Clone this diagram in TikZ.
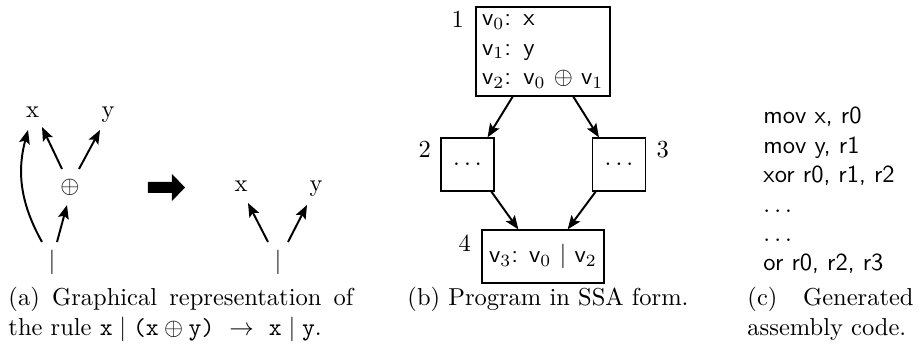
\documentclass[tikz,border=0pt]{standalone}
\usetikzlibrary{arrows.meta,calc}
\begin{document}
\begin{tikzpicture}[x=0.40816pt,y=-0.40816pt,
  arr/.style={-{Stealth[length=5.6pt,width=4.4pt,inset=1.1pt]}, line width=0.8pt},
  box/.style={draw, line width=0.5pt, inner sep=0pt},
  lab/.style={inner sep=0pt},
  num/.style={inner sep=0pt},
  captext/.style={inner sep=0pt, anchor=base west},
  codeline/.style={inner sep=0pt, anchor=base west, font=\sffamily}]
\useasboundingbox (0,0) rectangle (922,350);

% ---------- (a) left graph
\node[lab, anchor=base] (x1) at (32.5,118) {x};
\node[lab, anchor=base] (y1) at (108,118) {y};
\node[lab] (op) at (70,187) {$\oplus$};
\node[lab] (bar1) at (52,262.5) {$|$};
\draw[arr] ($(bar1)+(-10,-20.5)$) to[bend left=22] ($(x1.base)+(-4.5,12)$);
\draw[arr] ($(bar1)+(5,-20.5)$) -- ($(op)+(-3,18)$);
\draw[arr] ($(op)+(-8,-18)$) -- ($(x1.base)+(9.5,9)$);
\draw[arr] ($(op)+(9,-18)$) -- ($(y1.base)+(-8,12)$);

% big arrow
\fill (148,182) -- (172,182) -- (172,174) -- (185,187.5) -- (172,201) -- (172,193) -- (148,193) -- cycle;

% ---------- (a) right graph
\node[lab, anchor=base] (x2) at (241,192) {x};
\node[lab, anchor=base] (y2) at (316,192) {y};
\node[lab] (bar2) at (278,262.5) {$|$};
\draw[arr] ($(bar2)+(-10,-20.5)$) -- ($(x2.base)+(7,11)$);
\draw[arr] ($(bar2)+(10,-20.5)$) -- ($(y2.base)+(-9,13)$);

% ---------- (b) SSA program
\node[box, minimum width=54.69pt, minimum height=36.33pt, text width=49.79pt,
      inner xsep=2.45pt, align=left] (b1) at (543,51.5)
  {\textsf{v}$_0$\textsf{: x}\\
   \textsf{v}$_1$\textsf{: y}\\
   \textsf{v}$_2$\textsf{: v}$_0$ $\oplus$ \textsf{v}$_1$};
\node[box, minimum width=21.63pt, minimum height=21.63pt] (b2) at (467.5,164.5) {$\ldots$};
\node[box, minimum width=21.63pt, minimum height=21.63pt] (b3) at (619,164.5) {$\ldots$};
\node[box, minimum width=49.8pt, minimum height=21.63pt] (b4) at (543,256.5)
  {\textsf{v}$_3$\textsf{: v}$_0$ $|$ \textsf{v}$_2$};

\node[num, anchor=base east] (l1) at ($(b1.north west)+(-11,21)$) {1};
\node[num, anchor=base east] (l2) at ($(b2.north west)+(-9,20)$) {2};
\node[num, anchor=base west] (l3) at ($(b3.north east)+(10,20)$) {3};
\node[num, anchor=base east] (l4) at ($(b4.north west)+(-10,22)$) {4};

\draw[arr] ($(b1.south west)!0.276!(b1.south east)$) -- ($(b2.north west)!0.87!(b2.north east)$);
\draw[arr] ($(b1.south west)!0.724!(b1.south east)$) -- ($(b3.north west)!0.13!(b3.north east)$);
\draw[arr] ($(b2.south west)!0.94!(b2.south east)$) -- ($(b4.north west)!0.30!(b4.north east)$);
\draw[arr] ($(b3.south west)!0.07!(b3.south east)$) -- ($(b4.north west)!0.70!(b4.north east)$);

% ---------- (c) assembly code
\node[codeline] (c1) at (763,124) {mov x, r0};
\node[codeline] (c2) at (763,153.4) {mov y, r1};
\node[codeline] (c3) at (763,182.8) {xor r0, r1, r2};
\node[codeline] (c4) at (763,212.2) {$\ldots$};
\node[codeline] (c5) at (763,241.6) {$\ldots$};
\node[codeline] (c6) at (763,271) {or r0, r2, r3};

% ---------- captions
\node[captext, text width=140.8pt, align=justify] (ca) at (8,306)
  {(a) Graphical representation of the rule $\texttt{x}\mid\texttt{(x}\oplus\texttt{y)}\ \rightarrow\ \texttt{x}\mid\texttt{y}$.};
\node[captext] (cb) at (407,306) {(b) Program in SSA form.};
\node[captext, text width=67.8pt, align=justify] (cc) at (747,306) {(c) Generated assembly code.};
\end{tikzpicture}
\end{document}
